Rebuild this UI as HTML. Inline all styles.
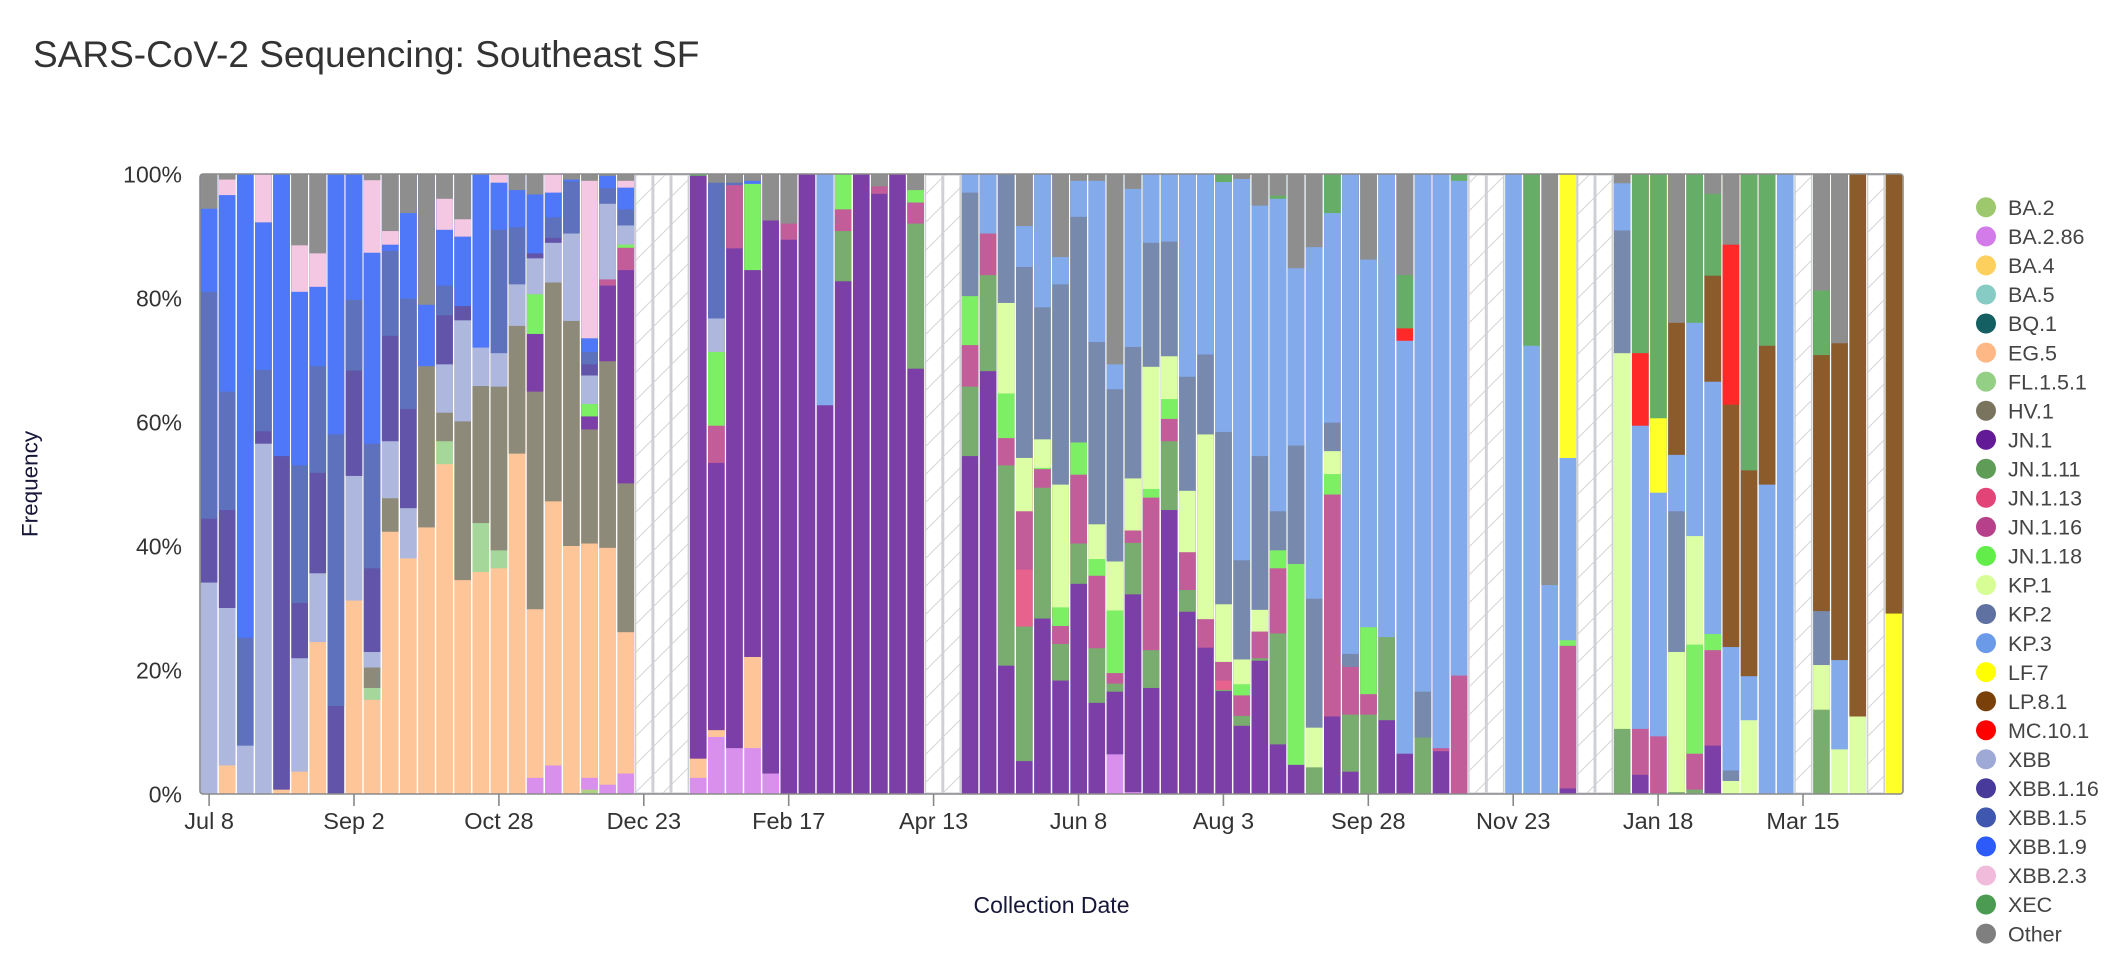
<!DOCTYPE html>
<html>
<head>
<meta charset="utf-8">
<style>
html,body{margin:0;padding:0;background:#fff;width:2116px;height:980px;overflow:hidden;}
svg{display:block;font-family:"Liberation Sans",Arial,Helvetica,sans-serif;}
.a{fill:#aed184}.b{fill:#d990ec}.e{fill:#fdc598}.f{fill:#a4d799}.h{fill:#8d8a7a}
.j{fill:#7b3fa7}.j11{fill:#79ac6f}.j13{fill:#e8628e}.j16{fill:#c25d9a}.j18{fill:#7cef65}
.k1{fill:#dcfea5}.k2{fill:#7889ae}.k3{fill:#83abeb}.lf{fill:#ffff29}.lp{fill:#8c5b2c}
.mc{fill:#ff2929}.x{fill:#aeb7dd}.x16{fill:#6154a9}.x5{fill:#5d71bc}.x9{fill:#4f78f9}
.x23{fill:#f4c7e2}.xe{fill:#66ae68}.o{fill:#8e8e8e}
.tk{font-size:23.5px;fill:#333;text-anchor:middle}
.yl{font-size:23px;fill:#333;text-anchor:end}
.lg{font-size:21.5px;fill:#444}
</style>
</head>
<body>
<svg width="2116" height="980" viewBox="0 0 2116 980" xmlns="http://www.w3.org/2000/svg">
<defs>
<pattern id="hatch" patternUnits="userSpaceOnUse" width="28" height="28">
<path d="M0,28 L28,0 M-7,7 L7,-7 M21,35 L35,21" stroke="#d4d4d8" stroke-width="1"/>
</pattern>
</defs>

<text x="33" y="67" font-size="37" fill="#333">SARS-CoV-2 Sequencing: Southeast SF</text>

<svg x="200" y="174" width="1703" height="620" viewBox="0 0 94 100" preserveAspectRatio="none">
<g transform="translate(0)"><rect x=".04" width=".92" height="100" class="x"/><rect x=".04" width=".92" height="65.9" class="x16"/><rect x=".04" width=".92" height="55.6" class="x5"/><rect x=".04" width=".92" height="19" class="x9"/><rect x=".04" width=".92" height="5.6" class="o"/></g>
<g transform="translate(1)"><rect x=".04" width=".92" height="100" class="e"/><rect x=".04" width=".92" height="95.4" class="x"/><rect x=".04" width=".92" height="70" class="x16"/><rect x=".04" width=".92" height="54.2" class="x5"/><rect x=".04" width=".92" height="35.1" class="x9"/><rect x=".04" width=".92" height="3.4" class="x23"/><rect x=".04" width=".92" height="0.9" class="o"/></g>
<g transform="translate(2)"><rect x=".04" width=".92" height="100" class="x"/><rect x=".04" width=".92" height="92.2" class="x5"/><rect x=".04" width=".92" height="74.8" class="x9"/></g>
<g transform="translate(3)"><rect x=".04" width=".92" height="100" class="x"/><rect x=".04" width=".92" height="43.5" class="x16"/><rect x=".04" width=".92" height="41.5" class="x5"/><rect x=".04" width=".92" height="31.6" class="x9"/><rect x=".04" width=".92" height="7.8" class="x23"/></g>
<g transform="translate(4)"><rect x=".04" width=".92" height="100" class="e"/><rect x=".04" width=".92" height="99.3" class="x16"/><rect x=".04" width=".92" height="45.5" class="x9"/></g>
<g transform="translate(5)"><rect x=".04" width=".92" height="100" class="e"/><rect x=".04" width=".92" height="96.4" class="x"/><rect x=".04" width=".92" height="78.1" class="x16"/><rect x=".04" width=".92" height="69.2" class="x5"/><rect x=".04" width=".92" height="47" class="x9"/><rect x=".04" width=".92" height="19" class="x23"/><rect x=".04" width=".92" height="11.5" class="o"/></g>
<g transform="translate(6)"><rect x=".04" width=".92" height="100" class="e"/><rect x=".04" width=".92" height="75.5" class="x"/><rect x=".04" width=".92" height="64.4" class="x16"/><rect x=".04" width=".92" height="48.2" class="x5"/><rect x=".04" width=".92" height="31" class="x9"/><rect x=".04" width=".92" height="18.2" class="x23"/><rect x=".04" width=".92" height="12.8" class="o"/></g>
<g transform="translate(7)"><rect x=".04" width=".92" height="100" class="x16"/><rect x=".04" width=".92" height="85.8" class="x5"/><rect x=".04" width=".92" height="42" class="x9"/></g>
<g transform="translate(8)"><rect x=".04" width=".92" height="100" class="e"/><rect x=".04" width=".92" height="68.8" class="x"/><rect x=".04" width=".92" height="48.7" class="x16"/><rect x=".04" width=".92" height="31.7" class="x5"/><rect x=".04" width=".92" height="20.3" class="x9"/></g>
<g transform="translate(9)"><rect x=".04" width=".92" height="100" class="e"/><rect x=".04" width=".92" height="84.8" class="f"/><rect x=".04" width=".92" height="82.9" class="h"/><rect x=".04" width=".92" height="79.6" class="x"/><rect x=".04" width=".92" height="77.1" class="x16"/><rect x=".04" width=".92" height="63.6" class="x5"/><rect x=".04" width=".92" height="43.5" class="x9"/><rect x=".04" width=".92" height="12.7" class="x23"/><rect x=".04" width=".92" height="1" class="o"/></g>
<g transform="translate(10)"><rect x=".04" width=".92" height="100" class="e"/><rect x=".04" width=".92" height="57.7" class="h"/><rect x=".04" width=".92" height="52.3" class="x"/><rect x=".04" width=".92" height="43.1" class="x16"/><rect x=".04" width=".92" height="26.1" class="x5"/><rect x=".04" width=".92" height="12.4" class="x9"/><rect x=".04" width=".92" height="11.4" class="x23"/><rect x=".04" width=".92" height="9.2" class="o"/></g>
<g transform="translate(11)"><rect x=".04" width=".92" height="100" class="e"/><rect x=".04" width=".92" height="62" class="x"/><rect x=".04" width=".92" height="53.9" class="x16"/><rect x=".04" width=".92" height="37.9" class="x5"/><rect x=".04" width=".92" height="20.1" class="x9"/><rect x=".04" width=".92" height="6.3" class="o"/></g>
<g transform="translate(12)"><rect x=".04" width=".92" height="100" class="e"/><rect x=".04" width=".92" height="57" class="h"/><rect x=".04" width=".92" height="31" class="x9"/><rect x=".04" width=".92" height="21.1" class="o"/></g>
<g transform="translate(13)"><rect x=".04" width=".92" height="100" class="e"/><rect x=".04" width=".92" height="46.8" class="f"/><rect x=".04" width=".92" height="43.1" class="h"/><rect x=".04" width=".92" height="38.5" class="x"/><rect x=".04" width=".92" height="30.7" class="x16"/><rect x=".04" width=".92" height="22.8" class="x5"/><rect x=".04" width=".92" height="18" class="x9"/><rect x=".04" width=".92" height="9" class="x23"/><rect x=".04" width=".92" height="4" class="o"/></g>
<g transform="translate(14)"><rect x=".04" width=".92" height="100" class="e"/><rect x=".04" width=".92" height="65.5" class="h"/><rect x=".04" width=".92" height="39.9" class="x"/><rect x=".04" width=".92" height="23.6" class="x16"/><rect x=".04" width=".92" height="21.3" class="x9"/><rect x=".04" width=".92" height="10.1" class="x23"/><rect x=".04" width=".92" height="7.3" class="o"/></g>
<g transform="translate(15)"><rect x=".04" width=".92" height="100" class="e"/><rect x=".04" width=".92" height="64.2" class="f"/><rect x=".04" width=".92" height="56.3" class="h"/><rect x=".04" width=".92" height="34.2" class="x"/><rect x=".04" width=".92" height="28" class="x9"/></g>
<g transform="translate(16)"><rect x=".04" width=".92" height="100" class="e"/><rect x=".04" width=".92" height="63.6" class="f"/><rect x=".04" width=".92" height="60.7" class="h"/><rect x=".04" width=".92" height="34.3" class="x"/><rect x=".04" width=".92" height="28.9" class="x5"/><rect x=".04" width=".92" height="9" class="x9"/><rect x=".04" width=".92" height="1.4" class="x23"/></g>
<g transform="translate(17)"><rect x=".04" width=".92" height="100" class="e"/><rect x=".04" width=".92" height="45.1" class="h"/><rect x=".04" width=".92" height="24.5" class="x"/><rect x=".04" width=".92" height="17.8" class="x5"/><rect x=".04" width=".92" height="8.6" class="x9"/><rect x=".04" width=".92" height="2.6" class="o"/></g>
<g transform="translate(18)"><rect x=".04" width=".92" height="100" class="b"/><rect x=".04" width=".92" height="97.4" class="e"/><rect x=".04" width=".92" height="70.2" class="h"/><rect x=".04" width=".92" height="35.1" class="j"/><rect x=".04" width=".92" height="25.8" class="j18"/><rect x=".04" width=".92" height="19.4" class="x"/><rect x=".04" width=".92" height="13.6" class="x16"/><rect x=".04" width=".92" height="12.8" class="x9"/><rect x=".04" width=".92" height="3.3" class="o"/></g>
<g transform="translate(19)"><rect x=".04" width=".92" height="100" class="b"/><rect x=".04" width=".92" height="95.4" class="e"/><rect x=".04" width=".92" height="52.8" class="h"/><rect x=".04" width=".92" height="17.5" class="x"/><rect x=".04" width=".92" height="11.1" class="x16"/><rect x=".04" width=".92" height="10.3" class="x5"/><rect x=".04" width=".92" height="7" class="x9"/><rect x=".04" width=".92" height="3" class="x23"/></g>
<g transform="translate(20)"><rect x=".04" width=".92" height="100" class="e"/><rect x=".04" width=".92" height="60" class="h"/><rect x=".04" width=".92" height="23.7" class="x"/><rect x=".04" width=".92" height="9.6" class="x5"/><rect x=".04" width=".92" height="1.2" class="x9"/><rect x=".04" width=".92" height="0.9" class="o"/></g>
<g transform="translate(21)"><rect x=".04" width=".92" height="100" class="a"/><rect x=".04" width=".92" height="99.3" class="b"/><rect x=".04" width=".92" height="97.4" class="e"/><rect x=".04" width=".92" height="59.6" class="h"/><rect x=".04" width=".92" height="41.2" class="j"/><rect x=".04" width=".92" height="39.1" class="j18"/><rect x=".04" width=".92" height="37.1" class="x"/><rect x=".04" width=".92" height="32.5" class="x16"/><rect x=".04" width=".92" height="30.7" class="x5"/><rect x=".04" width=".92" height="28.7" class="x9"/><rect x=".04" width=".92" height="26.5" class="x23"/><rect x=".04" width=".92" height="1.1" class="o"/></g>
<g transform="translate(22)"><rect x=".04" width=".92" height="100" class="b"/><rect x=".04" width=".92" height="98.5" class="e"/><rect x=".04" width=".92" height="60.3" class="h"/><rect x=".04" width=".92" height="30.2" class="j"/><rect x=".04" width=".92" height="18" class="j16"/><rect x=".04" width=".92" height="17" class="x"/><rect x=".04" width=".92" height="4.8" class="x5"/><rect x=".04" width=".92" height="2.3" class="x9"/><rect x=".04" width=".92" height="0.3" class="o"/></g>
<g transform="translate(23)"><rect x=".04" width=".92" height="100" class="b"/><rect x=".04" width=".92" height="96.7" class="e"/><rect x=".04" width=".92" height="73.9" class="h"/><rect x=".04" width=".92" height="49.9" class="j"/><rect x=".04" width=".92" height="15.5" class="j16"/><rect x=".04" width=".92" height="11.9" class="j18"/><rect x=".04" width=".92" height="11.4" class="x"/><rect x=".04" width=".92" height="8.3" class="x5"/><rect x=".04" width=".92" height="5.7" class="x9"/><rect x=".04" width=".92" height="2.2" class="x23"/><rect x=".04" width=".92" height="1.1" class="o"/></g>
<g transform="translate(27)"><rect x=".04" width=".92" height="100" class="b"/><rect x=".04" width=".92" height="97.4" class="e"/><rect x=".04" width=".92" height="94.3" class="j"/><rect x=".04" width=".92" height="0.3" class="xe"/></g>
<g transform="translate(28)"><rect x=".04" width=".92" height="100" class="b"/><rect x=".04" width=".92" height="90.8" class="e"/><rect x=".04" width=".92" height="89.7" class="j"/><rect x=".04" width=".92" height="46.6" class="j16"/><rect x=".04" width=".92" height="40.6" class="j18"/><rect x=".04" width=".92" height="28.7" class="x"/><rect x=".04" width=".92" height="23.3" class="x5"/><rect x=".04" width=".92" height="1.4" class="o"/></g>
<g transform="translate(29)"><rect x=".04" width=".92" height="100" class="b"/><rect x=".04" width=".92" height="92.6" class="j"/><rect x=".04" width=".92" height="12" class="j16"/><rect x=".04" width=".92" height="1.8" class="x5"/><rect x=".04" width=".92" height="1.4" class="o"/></g>
<g transform="translate(30)"><rect x=".04" width=".92" height="100" class="b"/><rect x=".04" width=".92" height="92.6" class="e"/><rect x=".04" width=".92" height="77.9" class="j"/><rect x=".04" width=".92" height="15.5" class="j18"/><rect x=".04" width=".92" height="1.6" class="x9"/><rect x=".04" width=".92" height="1.1" class="o"/></g>
<g transform="translate(31)"><rect x=".04" width=".92" height="100" class="b"/><rect x=".04" width=".92" height="96.7" class="j"/><rect x=".04" width=".92" height="7.5" class="o"/></g>
<g transform="translate(32)"><rect x=".04" width=".92" height="100" class="j"/><rect x=".04" width=".92" height="10.6" class="j16"/><rect x=".04" width=".92" height="8" class="o"/></g>
<g transform="translate(33)"><rect x=".04" width=".92" height="100" class="j"/></g>
<g transform="translate(34)"><rect x=".04" width=".92" height="100" class="j"/><rect x=".04" width=".92" height="37.3" class="k3"/></g>
<g transform="translate(35)"><rect x=".04" width=".92" height="100" class="j"/><rect x=".04" width=".92" height="17.3" class="j11"/><rect x=".04" width=".92" height="9.2" class="j16"/><rect x=".04" width=".92" height="5.7" class="j18"/></g>
<g transform="translate(36)"><rect x=".04" width=".92" height="100" class="j"/></g>
<g transform="translate(37)"><rect x=".04" width=".92" height="100" class="j"/><rect x=".04" width=".92" height="3.2" class="j16"/><rect x=".04" width=".92" height="2" class="o"/></g>
<g transform="translate(38)"><rect x=".04" width=".92" height="100" class="j"/></g>
<g transform="translate(39)"><rect x=".04" width=".92" height="100" class="j"/><rect x=".04" width=".92" height="31.4" class="j11"/><rect x=".04" width=".92" height="8" class="j16"/><rect x=".04" width=".92" height="4.6" class="j18"/><rect x=".04" width=".92" height="2.6" class="o"/></g>
<g transform="translate(42)"><rect x=".04" width=".92" height="100" class="j"/><rect x=".04" width=".92" height="45.5" class="j11"/><rect x=".04" width=".92" height="34.3" class="j16"/><rect x=".04" width=".92" height="27.6" class="j18"/><rect x=".04" width=".92" height="19.7" class="k2"/><rect x=".04" width=".92" height="3" class="k3"/></g>
<g transform="translate(43)"><rect x=".04" width=".92" height="100" class="j"/><rect x=".04" width=".92" height="31.8" class="j11"/><rect x=".04" width=".92" height="16.3" class="j16"/><rect x=".04" width=".92" height="9.6" class="k3"/></g>
<g transform="translate(44)"><rect x=".04" width=".92" height="100" class="j"/><rect x=".04" width=".92" height="79.3" class="j11"/><rect x=".04" width=".92" height="47" class="j16"/><rect x=".04" width=".92" height="42.6" class="j18"/><rect x=".04" width=".92" height="35.4" class="k1"/><rect x=".04" width=".92" height="20.8" class="k2"/></g>
<g transform="translate(45)"><rect x=".04" width=".92" height="100" class="j"/><rect x=".04" width=".92" height="94.7" class="j11"/><rect x=".04" width=".92" height="73" class="j13"/><rect x=".04" width=".92" height="63.8" class="j16"/><rect x=".04" width=".92" height="54.4" class="k1"/><rect x=".04" width=".92" height="45.8" class="k2"/><rect x=".04" width=".92" height="15" class="k3"/><rect x=".04" width=".92" height="8.4" class="o"/></g>
<g transform="translate(46)"><rect x=".04" width=".92" height="100" class="j"/><rect x=".04" width=".92" height="71.7" class="j11"/><rect x=".04" width=".92" height="50.6" class="j16"/><rect x=".04" width=".92" height="47.6" class="j18"/><rect x=".04" width=".92" height="47.4" class="k1"/><rect x=".04" width=".92" height="42.8" class="k2"/><rect x=".04" width=".92" height="21.5" class="k3"/></g>
<g transform="translate(47)"><rect x=".04" width=".92" height="100" class="j"/><rect x=".04" width=".92" height="81.7" class="j11"/><rect x=".04" width=".92" height="75.8" class="j16"/><rect x=".04" width=".92" height="72.9" class="j18"/><rect x=".04" width=".92" height="69.9" class="k1"/><rect x=".04" width=".92" height="50.1" class="k2"/><rect x=".04" width=".92" height="17.8" class="k3"/><rect x=".04" width=".92" height="13.4" class="o"/></g>
<g transform="translate(48)"><rect x=".04" width=".92" height="100" class="j"/><rect x=".04" width=".92" height="66.1" class="j11"/><rect x=".04" width=".92" height="59.6" class="j16"/><rect x=".04" width=".92" height="48.5" class="j18"/><rect x=".04" width=".92" height="43.3" class="k2"/><rect x=".04" width=".92" height="6.9" class="k3"/><rect x=".04" width=".92" height="1.1" class="o"/></g>
<g transform="translate(49)"><rect x=".04" width=".92" height="100" class="j"/><rect x=".04" width=".92" height="85.3" class="j11"/><rect x=".04" width=".92" height="76.5" class="j16"/><rect x=".04" width=".92" height="64.8" class="j18"/><rect x=".04" width=".92" height="62.1" class="k1"/><rect x=".04" width=".92" height="56.5" class="k2"/><rect x=".04" width=".92" height="27.1" class="k3"/><rect x=".04" width=".92" height="1.1" class="o"/></g>
<g transform="translate(50)"><rect x=".04" width=".92" height="100" class="b"/><rect x=".04" width=".92" height="93.6" class="j"/><rect x=".04" width=".92" height="83.5" class="j11"/><rect x=".04" width=".92" height="82.2" class="j16"/><rect x=".04" width=".92" height="80.5" class="j18"/><rect x=".04" width=".92" height="70.4" class="k1"/><rect x=".04" width=".92" height="62.5" class="k2"/><rect x=".04" width=".92" height="34.7" class="k3"/><rect x=".04" width=".92" height="30.7" class="o"/></g>
<g transform="translate(51)"><rect x=".04" width=".92" height="100" class="b"/><rect x=".04" width=".92" height="99.7" class="j"/><rect x=".04" width=".92" height="67.8" class="j11"/><rect x=".04" width=".92" height="59.5" class="j16"/><rect x=".04" width=".92" height="57.5" class="k1"/><rect x=".04" width=".92" height="49.1" class="k2"/><rect x=".04" width=".92" height="27.9" class="k3"/><rect x=".04" width=".92" height="2.4" class="o"/></g>
<g transform="translate(52)"><rect x=".04" width=".92" height="100" class="j"/><rect x=".04" width=".92" height="82.9" class="j11"/><rect x=".04" width=".92" height="76.8" class="j16"/><rect x=".04" width=".92" height="52.2" class="j18"/><rect x=".04" width=".92" height="50.8" class="k1"/><rect x=".04" width=".92" height="31.1" class="k2"/><rect x=".04" width=".92" height="11.1" class="k3"/></g>
<g transform="translate(53)"><rect x=".04" width=".92" height="100" class="j"/><rect x=".04" width=".92" height="54.2" class="j11"/><rect x=".04" width=".92" height="43.1" class="j16"/><rect x=".04" width=".92" height="39.5" class="j18"/><rect x=".04" width=".92" height="36.3" class="k1"/><rect x=".04" width=".92" height="29.4" class="k2"/><rect x=".04" width=".92" height="10.9" class="k3"/></g>
<g transform="translate(54)"><rect x=".04" width=".92" height="100" class="j"/><rect x=".04" width=".92" height="70.6" class="j11"/><rect x=".04" width=".92" height="67.1" class="j16"/><rect x=".04" width=".92" height="61" class="k1"/><rect x=".04" width=".92" height="51.1" class="k2"/><rect x=".04" width=".92" height="32.7" class="k3"/></g>
<g transform="translate(55)"><rect x=".04" width=".92" height="100" class="j"/><rect x=".04" width=".92" height="76.4" class="j16"/><rect x=".04" width=".92" height="71.8" class="k1"/><rect x=".04" width=".92" height="42" class="k2"/><rect x=".04" width=".92" height="29.1" class="k3"/></g>
<g transform="translate(56)"><rect x=".04" width=".92" height="100" class="j"/><rect x=".04" width=".92" height="83.4" class="j11"/><rect x=".04" width=".92" height="83.2" class="j13"/><rect x=".04" width=".92" height="81.7" class="j16"/><rect x=".04" width=".92" height="78.7" class="k1"/><rect x=".04" width=".92" height="69.4" class="k2"/><rect x=".04" width=".92" height="41.6" class="k3"/><rect x=".04" width=".92" height="1.3" class="xe"/></g>
<g transform="translate(57)"><rect x=".04" width=".92" height="100" class="j"/><rect x=".04" width=".92" height="89" class="j11"/><rect x=".04" width=".92" height="87.4" class="j16"/><rect x=".04" width=".92" height="84.1" class="j18"/><rect x=".04" width=".92" height="82.3" class="k1"/><rect x=".04" width=".92" height="78.3" class="k2"/><rect x=".04" width=".92" height="62.3" class="k3"/><rect x=".04" width=".92" height="0.8" class="o"/></g>
<g transform="translate(58)"><rect x=".04" width=".92" height="100" class="j"/><rect x=".04" width=".92" height="78.5" class="j11"/><rect x=".04" width=".92" height="78.1" class="j16"/><rect x=".04" width=".92" height="73.8" class="k1"/><rect x=".04" width=".92" height="70.3" class="k2"/><rect x=".04" width=".92" height="45.5" class="k3"/><rect x=".04" width=".92" height="5.1" class="o"/></g>
<g transform="translate(59)"><rect x=".04" width=".92" height="100" class="j"/><rect x=".04" width=".92" height="92" class="j11"/><rect x=".04" width=".92" height="74.1" class="j16"/><rect x=".04" width=".92" height="63.6" class="j18"/><rect x=".04" width=".92" height="60.7" class="k2"/><rect x=".04" width=".92" height="54.4" class="k3"/><rect x=".04" width=".92" height="4" class="xe"/><rect x=".04" width=".92" height="3.5" class="o"/></g>
<g transform="translate(60)"><rect x=".04" width=".92" height="100" class="j"/><rect x=".04" width=".92" height="95.3" class="j18"/><rect x=".04" width=".92" height="62.9" class="k2"/><rect x=".04" width=".92" height="43.8" class="k3"/><rect x=".04" width=".92" height="15.2" class="o"/></g>
<g transform="translate(61)"><rect x=".04" width=".92" height="100" class="j11"/><rect x=".04" width=".92" height="95.7" class="k1"/><rect x=".04" width=".92" height="89.3" class="k2"/><rect x=".04" width=".92" height="68.5" class="k3"/><rect x=".04" width=".92" height="11.8" class="o"/></g>
<g transform="translate(62)"><rect x=".04" width=".92" height="100" class="j"/><rect x=".04" width=".92" height="87.5" class="j16"/><rect x=".04" width=".92" height="51.7" class="j18"/><rect x=".04" width=".92" height="48.4" class="k1"/><rect x=".04" width=".92" height="44.7" class="k2"/><rect x=".04" width=".92" height="40.1" class="k3"/><rect x=".04" width=".92" height="6.3" class="xe"/></g>
<g transform="translate(63)"><rect x=".04" width=".92" height="100" class="j"/><rect x=".04" width=".92" height="96.4" class="j11"/><rect x=".04" width=".92" height="87.2" class="j16"/><rect x=".04" width=".92" height="79.5" class="k2"/><rect x=".04" width=".92" height="77.4" class="k3"/></g>
<g transform="translate(64)"><rect x=".04" width=".92" height="100" class="j11"/><rect x=".04" width=".92" height="87.2" class="j16"/><rect x=".04" width=".92" height="83.9" class="j18"/><rect x=".04" width=".92" height="73.1" class="k3"/><rect x=".04" width=".92" height="13.8" class="o"/></g>
<g transform="translate(65)"><rect x=".04" width=".92" height="100" class="j"/><rect x=".04" width=".92" height="88.1" class="j11"/><rect x=".04" width=".92" height="74.7" class="k3"/></g>
<g transform="translate(66)"><rect x=".04" width=".92" height="100" class="j"/><rect x=".04" width=".92" height="93.5" class="k3"/><rect x=".04" width=".92" height="26.9" class="mc"/><rect x=".04" width=".92" height="24.9" class="xe"/><rect x=".04" width=".92" height="16.3" class="o"/></g>
<g transform="translate(67)"><rect x=".04" width=".92" height="100" class="j11"/><rect x=".04" width=".92" height="90.9" class="k2"/><rect x=".04" width=".92" height="83.5" class="k3"/></g>
<g transform="translate(68)"><rect x=".04" width=".92" height="100" class="j"/><rect x=".04" width=".92" height="93.1" class="j16"/><rect x=".04" width=".92" height="92.6" class="k3"/></g>
<g transform="translate(69)"><rect x=".04" width=".92" height="100" class="j16"/><rect x=".04" width=".92" height="80.9" class="k3"/><rect x=".04" width=".92" height="1.1" class="xe"/></g>
<g transform="translate(72)"><rect x=".04" width=".92" height="100" class="k3"/></g>
<g transform="translate(73)"><rect x=".04" width=".92" height="100" class="k3"/><rect x=".04" width=".92" height="27.7" class="xe"/></g>
<g transform="translate(74)"><rect x=".04" width=".92" height="100" class="k3"/><rect x=".04" width=".92" height="66.3" class="o"/></g>
<g transform="translate(75)"><rect x=".04" width=".92" height="100" class="j"/><rect x=".04" width=".92" height="99.1" class="j16"/><rect x=".04" width=".92" height="76.1" class="j18"/><rect x=".04" width=".92" height="75.2" class="k3"/><rect x=".04" width=".92" height="45.8" class="lf"/></g>
<g transform="translate(78)"><rect x=".04" width=".92" height="100" class="j11"/><rect x=".04" width=".92" height="89.5" class="k1"/><rect x=".04" width=".92" height="28.9" class="k2"/><rect x=".04" width=".92" height="9.1" class="k3"/><rect x=".04" width=".92" height="1.5" class="o"/></g>
<g transform="translate(79)"><rect x=".04" width=".92" height="100" class="j"/><rect x=".04" width=".92" height="96.9" class="j16"/><rect x=".04" width=".92" height="89.5" class="k3"/><rect x=".04" width=".92" height="40.6" class="mc"/><rect x=".04" width=".92" height="28.9" class="xe"/></g>
<g transform="translate(80)"><rect x=".04" width=".92" height="100" class="j16"/><rect x=".04" width=".92" height="90.7" class="k3"/><rect x=".04" width=".92" height="51.4" class="lf"/><rect x=".04" width=".92" height="39.4" class="xe"/></g>
<g transform="translate(81)"><rect x=".04" width=".92" height="100" class="j11"/><rect x=".04" width=".92" height="99.7" class="k1"/><rect x=".04" width=".92" height="77.1" class="k2"/><rect x=".04" width=".92" height="54.4" class="k3"/><rect x=".04" width=".92" height="45.3" class="lp"/><rect x=".04" width=".92" height="24" class="o"/></g>
<g transform="translate(82)"><rect x=".04" width=".92" height="100" class="j11"/><rect x=".04" width=".92" height="99.3" class="j16"/><rect x=".04" width=".92" height="93.5" class="j18"/><rect x=".04" width=".92" height="75.9" class="k1"/><rect x=".04" width=".92" height="58.4" class="k3"/><rect x=".04" width=".92" height="24" class="xe"/></g>
<g transform="translate(83)"><rect x=".04" width=".92" height="100" class="j"/><rect x=".04" width=".92" height="92.2" class="j16"/><rect x=".04" width=".92" height="76.8" class="j18"/><rect x=".04" width=".92" height="74.2" class="k3"/><rect x=".04" width=".92" height="33.5" class="lp"/><rect x=".04" width=".92" height="16.4" class="xe"/><rect x=".04" width=".92" height="3.2" class="o"/></g>
<g transform="translate(84)"><rect x=".04" width=".92" height="100" class="k1"/><rect x=".04" width=".92" height="97.9" class="k2"/><rect x=".04" width=".92" height="96.2" class="k3"/><rect x=".04" width=".92" height="76.3" class="lp"/><rect x=".04" width=".92" height="37.2" class="mc"/><rect x=".04" width=".92" height="11.4" class="o"/></g>
<g transform="translate(85)"><rect x=".04" width=".92" height="100" class="k1"/><rect x=".04" width=".92" height="88.1" class="k3"/><rect x=".04" width=".92" height="81" class="lp"/><rect x=".04" width=".92" height="47.8" class="xe"/></g>
<g transform="translate(86)"><rect x=".04" width=".92" height="100" class="k3"/><rect x=".04" width=".92" height="50.1" class="lp"/><rect x=".04" width=".92" height="27.7" class="xe"/></g>
<g transform="translate(87)"><rect x=".04" width=".92" height="100" class="k3"/></g>
<g transform="translate(89)"><rect x=".04" width=".92" height="100" class="j11"/><rect x=".04" width=".92" height="86.4" class="k1"/><rect x=".04" width=".92" height="79.2" class="k2"/><rect x=".04" width=".92" height="70.5" class="lp"/><rect x=".04" width=".92" height="29.2" class="xe"/><rect x=".04" width=".92" height="18.8" class="o"/></g>
<g transform="translate(90)"><rect x=".04" width=".92" height="100" class="k1"/><rect x=".04" width=".92" height="92.8" class="k3"/><rect x=".04" width=".92" height="78.4" class="lp"/><rect x=".04" width=".92" height="27.3" class="o"/></g>
<g transform="translate(91)"><rect x=".04" width=".92" height="100" class="k1"/><rect x=".04" width=".92" height="87.5" class="lp"/></g>
<g transform="translate(93)"><rect x=".04" width=".92" height="100" class="lf"/><rect x=".04" width=".92" height="70.9" class="lp"/></g>
</svg>

<g fill="url(#hatch)" stroke="#cfd0d6" stroke-width="1.6">
<rect x="635.5" y="174.8" width="16.7" height="618.4"/>
<rect x="653.6" y="174.8" width="16.7" height="618.4"/>
<rect x="671.7" y="174.8" width="16.7" height="618.4"/>
<rect x="925.4" y="174.8" width="16.7" height="618.4"/>
<rect x="943.5" y="174.8" width="16.7" height="618.4"/>
<rect x="1468.9" y="174.8" width="16.7" height="618.4"/>
<rect x="1487.0" y="174.8" width="16.7" height="618.4"/>
<rect x="1577.6" y="174.8" width="16.7" height="618.4"/>
<rect x="1595.7" y="174.8" width="16.7" height="618.4"/>
<rect x="1795.0" y="174.8" width="16.7" height="618.4"/>
<rect x="1867.5" y="174.8" width="16.7" height="618.4"/>
</g>

<rect x="200" y="174" width="1703" height="620" rx="3" ry="3" fill="none" stroke="#8a8a8a" stroke-width="1.6"/>

<g stroke="#888" stroke-width="1.6">
<line x1="209.1" y1="794" x2="209.1" y2="806"/>
<line x1="354.0" y1="794" x2="354.0" y2="806"/>
<line x1="498.9" y1="794" x2="498.9" y2="806"/>
<line x1="643.8" y1="794" x2="643.8" y2="806"/>
<line x1="788.7" y1="794" x2="788.7" y2="806"/>
<line x1="933.6" y1="794" x2="933.6" y2="806"/>
<line x1="1078.5" y1="794" x2="1078.5" y2="806"/>
<line x1="1223.4" y1="794" x2="1223.4" y2="806"/>
<line x1="1368.3" y1="794" x2="1368.3" y2="806"/>
<line x1="1513.2" y1="794" x2="1513.2" y2="806"/>
<line x1="1658.1" y1="794" x2="1658.1" y2="806"/>
<line x1="1803.0" y1="794" x2="1803.0" y2="806"/>
</g>
<g class="tk">
<text x="209.1" y="829">Jul 8</text>
<text x="354.0" y="829">Sep 2</text>
<text x="498.9" y="829">Oct 28</text>
<text x="643.8" y="829">Dec 23</text>
<text x="788.7" y="829">Feb 17</text>
<text x="933.6" y="829">Apr 13</text>
<text x="1078.5" y="829">Jun 8</text>
<text x="1223.4" y="829">Aug 3</text>
<text x="1368.3" y="829">Sep 28</text>
<text x="1513.2" y="829">Nov 23</text>
<text x="1658.1" y="829">Jan 18</text>
<text x="1803.0" y="829">Mar 15</text>
</g>

<g class="yl">
<text x="182" y="182.3">100%</text>
<text x="182" y="306.3">80%</text>
<text x="182" y="430.3">60%</text>
<text x="182" y="554.3">40%</text>
<text x="182" y="678.3">20%</text>
<text x="182" y="802.3">0%</text>
</g>

<text transform="translate(37.5,484) rotate(-90)" text-anchor="middle" font-size="22.5" fill="#17173a">Frequency</text>
<text x="1051.5" y="913" text-anchor="middle" font-size="23" fill="#17173a">Collection Date</text>

<g>
<circle cx="1986" cy="207.3" r="10" fill="#9ec86c"/><text class="lg" x="2008" y="215">BA.2</text>
<circle cx="1986" cy="236.4" r="10" fill="#d27be9"/><text class="lg" x="2008" y="244.1">BA.2.86</text>
<circle cx="1986" cy="265.4" r="10" fill="#fdd05e"/><text class="lg" x="2008" y="273.1">BA.4</text>
<circle cx="1986" cy="294.5" r="10" fill="#86ccc5"/><text class="lg" x="2008" y="302.2">BA.5</text>
<circle cx="1986" cy="323.5" r="10" fill="#145f62"/><text class="lg" x="2008" y="331.2">BQ.1</text>
<circle cx="1986" cy="352.6" r="10" fill="#fdb886"/><text class="lg" x="2008" y="360.3">EG.5</text>
<circle cx="1986" cy="381.6" r="10" fill="#94cf86"/><text class="lg" x="2008" y="389.3">FL.1.5.1</text>
<circle cx="1986" cy="410.7" r="10" fill="#7a745f"/><text class="lg" x="2008" y="418.4">HV.1</text>
<circle cx="1986" cy="439.7" r="10" fill="#621a97"/><text class="lg" x="2008" y="447.4">JN.1</text>
<circle cx="1986" cy="468.8" r="10" fill="#5f9c57"/><text class="lg" x="2008" y="476.5">JN.1.11</text>
<circle cx="1986" cy="497.8" r="10" fill="#e34478"/><text class="lg" x="2008" y="505.5">JN.1.13</text>
<circle cx="1986" cy="526.9" r="10" fill="#b6418a"/><text class="lg" x="2008" y="534.6">JN.1.16</text>
<circle cx="1986" cy="555.9" r="10" fill="#63ed4a"/><text class="lg" x="2008" y="563.6">JN.1.18</text>
<circle cx="1986" cy="585.0" r="10" fill="#d6fe94"/><text class="lg" x="2008" y="592.7">KP.1</text>
<circle cx="1986" cy="614.0" r="10" fill="#5f71a0"/><text class="lg" x="2008" y="621.7">KP.2</text>
<circle cx="1986" cy="643.1" r="10" fill="#6b9be8"/><text class="lg" x="2008" y="650.8">KP.3</text>
<circle cx="1986" cy="672.1" r="10" fill="#ffff00"/><text class="lg" x="2008" y="679.8">LF.7</text>
<circle cx="1986" cy="701.2" r="10" fill="#7a400a"/><text class="lg" x="2008" y="708.9">LP.8.1</text>
<circle cx="1986" cy="730.2" r="10" fill="#ff0000"/><text class="lg" x="2008" y="737.9">MC.10.1</text>
<circle cx="1986" cy="759.3" r="10" fill="#9fa9d6"/><text class="lg" x="2008" y="767">XBB</text>
<circle cx="1986" cy="788.3" r="10" fill="#473a9b"/><text class="lg" x="2008" y="796">XBB.1.16</text>
<circle cx="1986" cy="817.4" r="10" fill="#4057b0"/><text class="lg" x="2008" y="825.1">XBB.1.5</text>
<circle cx="1986" cy="846.4" r="10" fill="#2d5bfa"/><text class="lg" x="2008" y="854.1">XBB.1.9</text>
<circle cx="1986" cy="875.5" r="10" fill="#f1bcdc"/><text class="lg" x="2008" y="883.2">XBB.2.3</text>
<circle cx="1986" cy="904.5" r="10" fill="#4b9c52"/><text class="lg" x="2008" y="912.2">XEC</text>
<circle cx="1986" cy="933.6" r="10" fill="#7f7f7f"/><text class="lg" x="2008" y="941.3">Other</text>
</g>
</svg>
</body>
</html>
